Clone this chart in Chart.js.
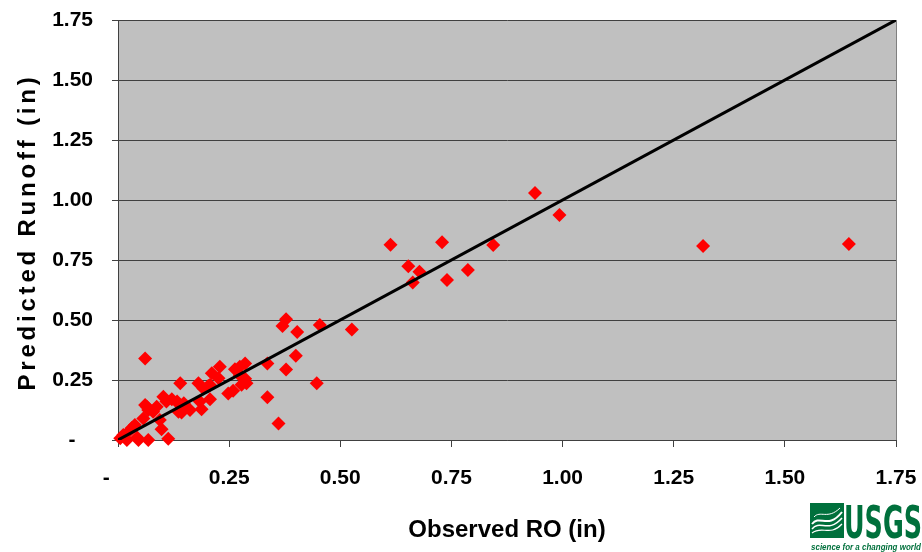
<!DOCTYPE html>
<html>
<head>
<meta charset="utf-8">
<title>Observed vs Predicted Runoff</title>
<script src="https://cdn.jsdelivr.net/npm/chart.js@4.4.1/dist/chart.umd.min.js"></script>
<style>
  html,body{margin:0;padding:0;background:#fff;}
  #wrap{position:relative;width:922px;height:552px;overflow:hidden;}
  #logo{position:absolute;left:810px;top:500px;}
</style>
</head>
<body>
<div id="wrap">
  <canvas id="chart" width="922" height="552"></canvas>
  <svg id="logo" width="112" height="52" viewBox="0 0 112 52">
    <rect x="0" y="3" width="34" height="35" fill="#00703C"/>
    <path d="M2 24 C10 14, 18 30, 32 12" stroke="#fff" stroke-width="2" fill="none"/>
    <path d="M2 29 C10 19, 18 34, 32 18" stroke="#fff" stroke-width="1.5" fill="none"/>
    <path d="M2 33 C12 25, 20 37, 32 24" stroke="#fff" stroke-width="1.2" fill="none"/>
    <path d="M4 17 C10 10, 18 20, 30 8" stroke="#fff" stroke-width="1" fill="none"/>
    <text x="34" y="38" font-family="'Liberation Sans Narrow','DejaVu Sans Condensed','Liberation Sans',sans-serif" font-weight="bold" font-size="44" fill="#00703C" textLength="78" lengthAdjust="spacingAndGlyphs">USGS</text>
    <text x="1" y="50" font-family="'Liberation Sans',sans-serif" font-weight="bold" font-style="italic" font-size="9" fill="#00703C" textLength="110" lengthAdjust="spacingAndGlyphs">science for a changing world</text>
  </svg>
</div>
<script>
// Observed runoff (in) vs predicted runoff (in)
const observed = [
  0.005, 0.012, 0.020, 0.024, 0.031, 0.038, 0.046, 0.043, 0.057, 0.061,
  0.065, 0.068, 0.061, 0.068, 0.079, 0.087, 0.094, 0.098, 0.102, 0.109,
  0.113, 0.121, 0.133, 0.136, 0.139, 0.140, 0.143, 0.148, 0.162, 0.181,
  0.184, 0.188, 0.192, 0.203, 0.207, 0.207, 0.211, 0.226, 0.229, 0.248,
  0.259, 0.263, 0.274, 0.274, 0.278, 0.286, 0.286, 0.289,
  0.336, 0.336, 0.361, 0.370, 0.378, 0.378, 0.400, 0.403, 0.447, 0.454, 0.526,
  0.613, 0.653, 0.678, 0.663, 0.729, 0.740, 0.787, 0.844, 0.938, 0.993,
  1.316, 1.644
];
const predicted = [
  0.007, 0.021, 0.000, 0.035, 0.050, 0.062, 0.000, 0.010, 0.090, 0.146,
  0.139, 0.125, 0.340, 0.000, 0.118, 0.139, 0.083, 0.045, 0.180, 0.160,
  0.005, 0.170, 0.160, 0.118, 0.146, 0.236, 0.115, 0.153, 0.125, 0.236,
  0.160, 0.128, 0.215, 0.225, 0.170, 0.229, 0.278, 0.257, 0.305, 0.194,
  0.205, 0.295, 0.270, 0.305, 0.230, 0.319, 0.255, 0.236,
  0.319, 0.178, 0.069, 0.475, 0.503, 0.294, 0.351, 0.450, 0.236, 0.479, 0.460,
  0.814, 0.724, 0.701, 0.656, 0.824, 0.667, 0.708, 0.8125, 1.029, 0.9375,
  0.808, 0.817
];
// 1:1 line
const lineX = [0, 1.75];
const lineY = [0, 1.75];

const tickValues = [0, 0.25, 0.5, 0.75, 1.0, 1.25, 1.5, 1.75];
// Excel accounting format: zero shows as a dash with trailing padding
const xTickLabels = ['-    ', '0.25', '0.50', '0.75', '1.00', '1.25', '1.50', '1.75'];
const yTickLabels = ['-   ', '0.25', '0.50', '0.75', '1.00', '1.25', '1.50', '1.75'];

const tickFont = {family: "'Liberation Sans', Arial, sans-serif", size: 21, weight: 'bold'};
const titleFont = {family: "'Liberation Sans', Arial, sans-serif", size: 24, weight: 'bold'};

/* ---------- plugins ---------- */
const plotBg = {
  id: 'plotBg',
  beforeDraw(chart){
    const {ctx, chartArea:a} = chart;
    ctx.save();
    ctx.fillStyle = '#C0C0C0';
    ctx.fillRect(a.left, a.top, a.right - a.left, a.bottom - a.top);
    ctx.strokeStyle = '#808080';
    ctx.lineWidth = 1;
    ctx.beginPath();
    ctx.moveTo(a.right + 0.5, a.top);
    ctx.lineTo(a.right + 0.5, a.bottom);
    ctx.stroke();
    ctx.restore();
  }
};

// spread out the letters of the y title, like the original
const spacedTitle = {
  id: 'spacedTitle',
  afterLayout(chart){
    const s = chart.scales.y;
    if (s._spaced) return;
    s._spaced = true;
    const orig = s.drawTitle;
    s.drawTitle = function(){
      const ctx = this.ctx;
      ctx.save();
      ctx.letterSpacing = '3.8px';
      ctx.translate(0, 2);
      orig.apply(this, arguments);
      ctx.restore();
    };
  }
};

function fixTicks(scale){ scale.ticks = tickValues.map(v => ({value: v})); }

new Chart(document.getElementById('chart'), {
  type: 'scatter',
  data: {
    datasets: [
      {
        label: '1:1',
        data: lineX.map((x, i) => ({x, y: lineY[i]})),
        showLine: true,
        borderColor: '#000',
        borderWidth: 3,
        pointRadius: 0,
        order: 0
      },
      {
        label: 'Runoff',
        data: observed.map((x, i) => ({x, y: predicted[i]})),
        pointStyle: 'rectRot',
        pointRadius: 7,
        backgroundColor: '#FF0000',
        borderWidth: 0,
        clip: false,
        order: 1
      }
    ]
  },
  options: {
    responsive: false,
    animation: false,
    layout: {padding: {top: 20, right: 26, left: 0, bottom: 0}},
    plugins: {legend: {display: false}, tooltip: {enabled: false}},
    scales: {
      x: {
        type: 'linear', min: 0, max: 1.75,
        afterBuildTicks: fixTicks,
        afterFit: s => { s.height = 112; s.paddingLeft = 0; s.paddingRight = 0; },
        grid: {drawOnChartArea: false, drawTicks: true, tickLength: 7, color: '#404040'},
        border: {color: '#404040', width: 1},
        ticks: {color: '#000', font: tickFont, padding: 19, maxRotation: 0, autoSkip: false,
                callback: (v, i) => xTickLabels[i]},
        title: {display: true, text: 'Observed RO (in)', color: '#000', font: titleFont, padding: {top: 0, bottom: 7}}
      },
      y: {
        type: 'linear', min: 0, max: 1.75,
        afterBuildTicks: fixTicks,
        afterFit: s => { s.width = 118; s.paddingTop = 0; s.paddingBottom = 0; },
        grid: {color: '#404040', lineWidth: 1, drawTicks: true, tickLength: 6},
        border: {color: '#404040', width: 1},
        ticks: {color: '#000', font: tickFont, padding: 19, autoSkip: false,
                callback: (v, i) => yTickLabels[i]},
        title: {display: true, text: 'Predicted Runoff (in)', color: '#000', font: titleFont, padding: {top: 14, bottom: 0}}
      }
    }
  },
  plugins: [plotBg, spacedTitle]
});
</script>
</body>
</html>
